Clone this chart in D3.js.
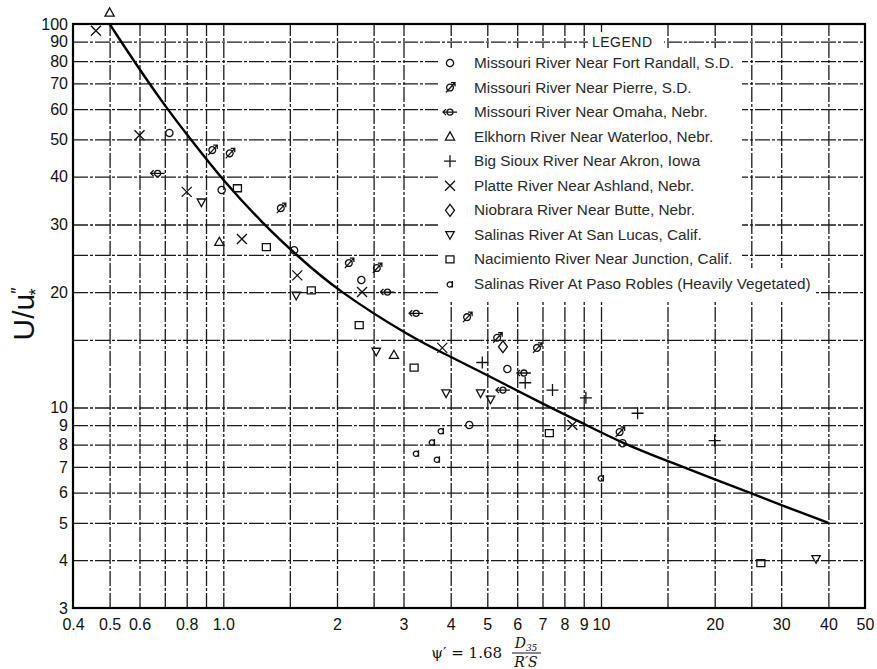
<!DOCTYPE html>
<html>
<head>
<meta charset="utf-8">
<script src="https://cdn.jsdelivr.net/npm/d3@7"></script>
<style>
  body { margin: 0; background: #fff; }
  svg { display: block; }
</style>
</head>
<body>
<script>
// fitted curve
var curveX = [0.5, 0.58, 0.71, 0.82, 1.0, 1.28, 1.56, 2.0, 3.16, 3.8, 4.96, 7.17, 8.75, 11.4, 15, 20, 25, 30, 40];
var curveY = [100, 80, 60, 50, 39, 30, 25, 20.2, 15.2, 13.9, 12.2, 10.1, 9.2, 8.07, 7.25, 6.5, 5.98, 5.56, 5.0];

// observed points per river  [psi', U/u*]
var fortRandall = [[0.72, 52], [0.99, 36.9], [1.54, 25.7], [2.32, 21.5], [5.65, 12.6], [4.48, 9.0], [11.4, 8.07]];
var pierre = [[0.935, 46.9], [1.04, 46], [1.42, 33.1], [2.15, 23.8], [2.55, 23.1], [4.42, 17.2], [5.31, 15.2], [6.77, 14.3], [11.2, 8.63]];
var omaha = [[0.67, 40.8], [2.72, 20], [3.24, 17.6], [6.25, 12.3], [5.5, 11.1]];
var elkhorn = [[0.5, 107], [0.976, 27], [2.83, 13.7]];
var bigSioux = [[4.85, 13.1], [6.3, 11.6], [7.44, 11.1], [9.12, 10.6], [12.5, 9.66], [20, 8.2]];
var platte = [[0.46, 96], [0.6, 51.3], [0.8, 36.5], [1.12, 27.5], [1.57, 22.1], [2.33, 20], [3.8, 14.3], [8.4, 9.0]];
var niobrara = [[5.5, 14.4]];
var sanLucas = [[0.875, 34.3], [1.56, 19.6], [2.54, 14.0], [3.89, 10.9], [4.8, 10.9], [5.1, 10.5], [37.1, 4.03]];
var nacimiento = [[1.09, 37.3], [1.3, 26.2], [1.71, 20.2], [2.29, 16.4], [3.2, 12.7], [7.3, 8.57], [26.5, 3.93]];
var pasoRobles = [[3.57, 8.13], [3.77, 8.7], [3.24, 7.6], [3.68, 7.33], [10, 6.55]];

var legendNames = [
  'Missouri River Near Fort Randall, S.D.',
  'Missouri River Near Pierre, S.D.',
  'Missouri River Near Omaha, Nebr.',
  'Elkhorn River Near Waterloo, Nebr.',
  'Big Sioux River Near Akron, Iowa',
  'Platte River Near Ashland, Nebr.',
  'Niobrara River Near Butte, Nebr.',
  'Salinas River At San Lucas, Calif.',
  'Nacimiento River Near Junction, Calif.',
  'Salinas River At Paso Robles (Heavily Vegetated)'
];
var legendShapes = ['circle', 'pierre', 'omaha', 'tri', 'plus', 'times', 'diamond', 'itri', 'square', 'alpha'];
var seriesData = [fortRandall, pierre, omaha, elkhorn, bigSioux, platte, niobrara, sanLucas, nacimiento, pasoRobles];

var xGrid = [0.5, 0.6, 0.7, 0.8, 0.9, 1, 1.5, 2, 2.5, 3, 4, 5, 6, 7, 8, 9, 10, 15, 20, 25, 30, 40];
var yGrid = [4, 5, 6, 7, 8, 9, 10, 15, 20, 25, 30, 40, 50, 60, 70, 80, 90];
var xTickVals = [0.4, 0.5, 0.6, 0.8, 1, 2, 3, 4, 5, 6, 7, 8, 9, 10, 20, 30, 40, 50];
var xTickText = ['0.4', '0.5', '0.6', '0.8', '1.0', '2', '3', '4', '5', '6', '7', '8', '9', '10', '20', '30', '40', '50'];
var yTickVals = [3, 4, 5, 6, 7, 8, 9, 10, 20, 30, 40, 50, 60, 70, 80, 90, 100];

var width = 877, height = 669;
var mLeft = 73, mRight = 865, mTop = 24, mBottom = 608;

var svg = d3.select('body').append('svg')
  .attr('width', width)
  .attr('height', height)
  .style('font-family', '"Liberation Sans", Arial, sans-serif');

var x = d3.scaleLog().domain([0.4, 50]).range([mLeft, mRight]);
var y = d3.scaleLog().domain([3, 100]).range([mBottom, mTop]);

// grid
var gx = svg.append('g')
  .attr('transform', 'translate(0,' + mBottom + ')')
  .call(d3.axisBottom(x).tickValues(xGrid).tickSize(-(mBottom - mTop)).tickFormat(''));
var gy = svg.append('g')
  .attr('transform', 'translate(' + mLeft + ',0)')
  .call(d3.axisLeft(y).tickValues(yGrid).tickSize(-(mRight - mLeft)).tickFormat(''));
[gx, gy].forEach(function (g) {
  g.select('.domain').remove();
  g.selectAll('line')
    .attr('stroke', '#1a1a1a')
    .attr('stroke-width', 1.3)
    .attr('stroke-dasharray', '15,2,3,2');
});

// legend backgrounds cut the grid
svg.append('rect').attr('x', 438).attr('y', 48).attr('width', 304).attr('height', 222).attr('fill', '#fff');
svg.append('rect').attr('x', 438).attr('y', 268).attr('width', 378).attr('height', 32).attr('fill', '#fff');
svg.append('rect').attr('x', 588).attr('y', 32).attr('width', 76).attr('height', 18).attr('fill', '#fff');

// frame
svg.append('rect')
  .attr('x', mLeft).attr('y', mTop)
  .attr('width', mRight - mLeft).attr('height', mBottom - mTop)
  .attr('fill', 'none').attr('stroke', '#000').attr('stroke-width', 2.2);

// tick labels
var xl = svg.append('g')
  .attr('transform', 'translate(0,' + mBottom + ')')
  .call(d3.axisBottom(x).tickValues(xTickVals).tickSize(0).tickPadding(11)
    .tickFormat(function (d, i) { return xTickText[i]; }));
var yl = svg.append('g')
  .attr('transform', 'translate(' + mLeft + ',0)')
  .call(d3.axisLeft(y).tickValues(yTickVals).tickSize(0).tickPadding(5)
    .tickFormat(d3.format('d')));
[xl, yl].forEach(function (g) {
  g.select('.domain').remove();
  g.selectAll('text')
    .attr('fill', '#111')
    .style('font-size', '16px')
    .style('font-family', '"Liberation Sans", Arial, sans-serif');
});

// symbols
function symbolPath(type) {
  var p = d3.path();
  if (type === 'circle') {
    p.moveTo(3.6, 0); p.arc(0, 0, 3.6, 0, 2 * Math.PI);
  } else if (type === 'pierre') {
    p.moveTo(3.4, 0); p.arc(0, 0, 3.4, 0, 2 * Math.PI);
    p.moveTo(-4, 5); p.lineTo(5, -5);
    p.moveTo(1, -5); p.lineTo(5, -5); p.lineTo(5, -1);
  } else if (type === 'omaha') {
    p.moveTo(3, 0); p.arc(0, 0, 3, 0, 2 * Math.PI);
    p.moveTo(-7, 0); p.lineTo(7, 0);
    p.moveTo(-4, -3); p.lineTo(-7, 0); p.lineTo(-4, 3);
  } else if (type === 'tri') {
    p.moveTo(0, -4.8); p.lineTo(4.6, 3.4); p.lineTo(-4.6, 3.4); p.closePath();
  } else if (type === 'itri') {
    p.moveTo(0, 4.4); p.lineTo(4.2, -3.2); p.lineTo(-4.2, -3.2); p.closePath();
  } else if (type === 'plus') {
    p.moveTo(-6, 0); p.lineTo(6, 0); p.moveTo(0, -6); p.lineTo(0, 6);
  } else if (type === 'times') {
    p.moveTo(-5, -5); p.lineTo(5, 5); p.moveTo(-5, 5); p.lineTo(5, -5);
  } else if (type === 'diamond') {
    p.moveTo(0, -6); p.lineTo(4.5, 0); p.lineTo(0, 6); p.lineTo(-4.5, 0); p.closePath();
  } else if (type === 'square') {
    p.moveTo(-4, -3.5); p.lineTo(4, -3.5); p.lineTo(4, 3.5); p.lineTo(-4, 3.5); p.closePath();
  } else if (type === 'alpha') {
    p.moveTo(2.4, 0.6); p.arc(-0.2, 0.6, 2.6, 0, 2 * Math.PI);
    p.moveTo(2.4, -3); p.lineTo(2.4, 3.6);
  }
  return p.toString();
}

// curve
var line = d3.line()
  .x(function (d) { return x(d[0]); })
  .y(function (d) { return y(d[1]); })
  .curve(d3.curveBasis);
svg.append('path')
  .datum(curveX.map(function (v, i) { return [v, curveY[i]]; }))
  .attr('d', line)
  .attr('fill', 'none')
  .attr('stroke', '#000')
  .attr('stroke-width', 2.4);

// points
seriesData.forEach(function (data, k) {
  svg.append('g').selectAll('path')
    .data(data)
    .enter()
    .append('path')
    .attr('transform', function (d) { return 'translate(' + x(d[0]) + ',' + y(d[1]) + ')'; })
    .attr('d', symbolPath(legendShapes[k]))
    .attr('fill', 'none')
    .attr('stroke', '#111')
    .attr('stroke-width', 1.3);
});

// legend
svg.append('text')
  .attr('x', 592).attr('y', 47)
  .attr('fill', '#222')
  .style('font-size', '14px')
  .style('letter-spacing', '0.5px')
  .text('LEGEND');
var lg = svg.append('g').selectAll('g')
  .data(legendNames)
  .enter()
  .append('g')
  .attr('transform', function (d, i) { return 'translate(450,' + (63 + i * 24.55) + ')'; });
lg.append('path')
  .attr('d', function (d, i) { return symbolPath(legendShapes[i]); })
  .attr('fill', 'none')
  .attr('stroke', '#111')
  .attr('stroke-width', 1.3);
lg.append('text')
  .attr('x', 24).attr('y', 5)
  .attr('fill', '#2a2a2a')
  .style('font-size', '15.3px')
  .text(function (d) { return d; });

// axis titles
var yt = svg.append('text')
  .attr('transform', 'translate(34,314) rotate(-90)')
  .attr('text-anchor', 'middle')
  .attr('fill', '#111')
  .style('font-size', '30px');
yt.append('tspan').text('U/u');
yt.append('tspan').attr('dy', -10).style('font-size', '18px').text('″');
yt.append('tspan').attr('dy', 18).attr('dx', -8).style('font-size', '18px').text('*');

svg.append('text')
  .attr('x', 502).attr('y', 658)
  .attr('text-anchor', 'end')
  .attr('fill', '#111')
  .style('font-size', '15px')
  .style('font-family', '"DejaVu Serif", serif')
  .text('ψ′ = 1.68');
svg.append('text')
  .attr('x', 526).attr('y', 648)
  .attr('text-anchor', 'middle')
  .attr('fill', '#111')
  .style('font-size', '14px')
  .style('font-style', 'italic')
  .style('font-family', '"DejaVu Serif", serif')
  .html('D<tspan dy="3" font-size="9">35</tspan>');
svg.append('line')
  .attr('x1', 512).attr('x2', 541).attr('y1', 653).attr('y2', 653)
  .attr('stroke', '#111').attr('stroke-width', 1);
svg.append('text')
  .attr('x', 526).attr('y', 667)
  .attr('text-anchor', 'middle')
  .attr('fill', '#111')
  .style('font-size', '14px')
  .style('font-style', 'italic')
  .style('font-family', '"DejaVu Serif", serif')
  .text('R′S');
</script>
</body>
</html>
